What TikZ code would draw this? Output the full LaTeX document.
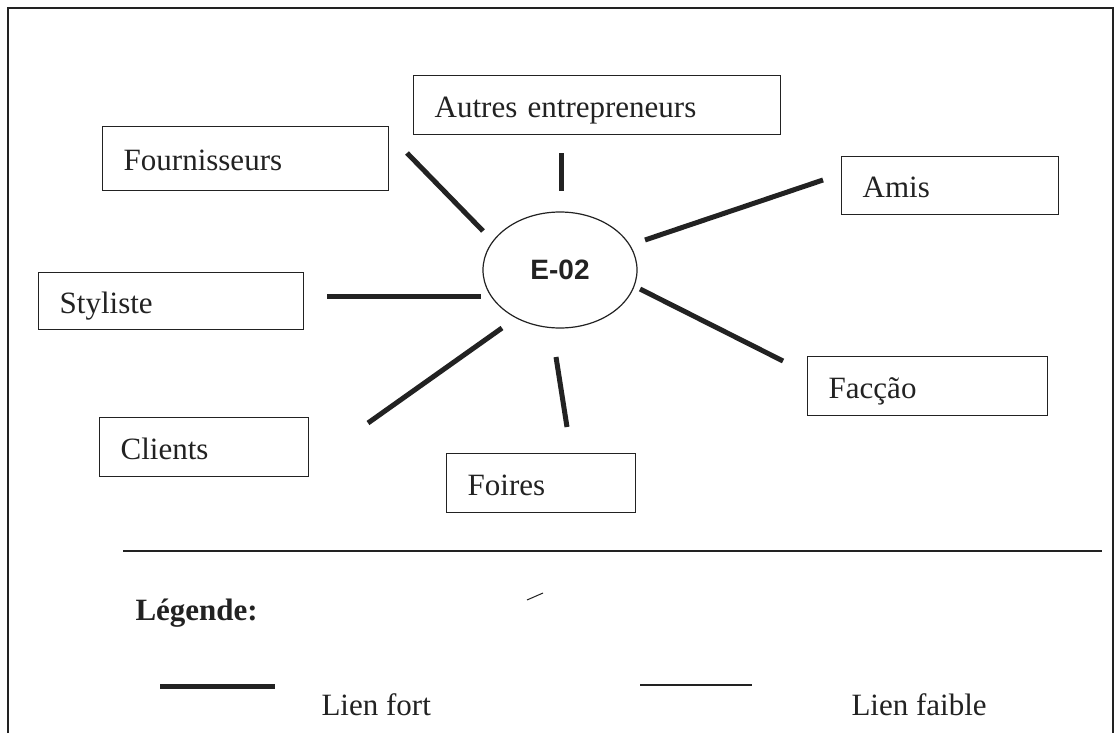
\documentclass[tikz,border=0pt]{standalone}
\usepackage{fontspec}
\setmainfont{Liberation Serif}
\newfontfamily\labelsans{Liberation Sans}
\usetikzlibrary{shapes.geometric}
\definecolor{ink}{RGB}{34,34,34}
\begin{document}
\begin{tikzpicture}[x=1pt,y=-1pt,
  every node/.style={font=\fontsize{31}{36}\selectfont, text=ink},
  actor/.style={draw=ink, line width=1.4pt, rectangle, anchor=north west,
    inner xsep=21pt, inner ysep=0pt, align=left,
    text height=24pt, text depth=0pt},
  hub/.style={draw=ink, line width=1.2pt, ellipse, inner sep=0pt,
    minimum width=154pt, minimum height=116pt,
    font=\labelsans\bfseries\fontsize{28}{32}\selectfont},
  strong/.style={draw=ink, line width=5pt},
  weak/.style={draw=ink, line width=1.4pt},
  frame/.style={draw=ink, line width=1.4pt}]

% canvas
\fill[white] (0,0) rectangle (1118,733);
\useasboundingbox (0,0) rectangle (1118,733);

% outer frame and separator above the legend
\coordinate (fTL) at (8,8);
\coordinate (fTR) at (1113,8);
\coordinate (fBL) at (8,733);
\coordinate (fBR) at (1113,733);
\draw[frame] (fBL) -- (fTL) -- (fTR) -- (fBR);
\coordinate (sepL) at (123,551);
\coordinate (sepR) at (1102,551);
\draw[frame] (sepL) -- (sepR);

% central actor
\node[hub] (e02) at (560,270) {E-02};

% surrounding actors
\node[actor, text width=244pt, minimum height=64pt] (four) at (102,126) {Fournisseurs};
\node[actor, text width=325pt, minimum height=59pt] (autres) at (413,75) {Autres entrepreneurs};
\node[actor, text width=175pt, minimum height=58pt] (amis) at (841,156) {Amis};
\node[actor, text width=223pt, minimum height=57pt] (styl) at (38,272) {Styliste};
\node[actor, text width=198pt, minimum height=59pt] (facc) at (807,356) {Facção};
\node[actor, text width=167pt, minimum height=59pt] (cli) at (99,417) {Clients};
\node[actor, text width=147pt, minimum height=59pt] (foi) at (446,453) {Foires};

% spoke end points
\coordinate (fourA) at (407,153);  \coordinate (fourB) at (483,231);
\coordinate (autA) at (561,153);   \coordinate (autB) at (561,191);
\coordinate (amiA) at (823,180);   \coordinate (amiB) at (645,240);
\coordinate (styA) at (327,296);   \coordinate (styB) at (481,296);
\coordinate (facA) at (783,361);   \coordinate (facB) at (640,289);
\coordinate (cliA) at (368,423);   \coordinate (cliB) at (502,328);
\coordinate (foiA) at (567,427);   \coordinate (foiB) at (556,357);

% strong links
\draw[strong] (fourA) -- (fourB);
\draw[strong] (autA) -- (autB);
\draw[strong] (amiA) -- (amiB);
\draw[strong] (styA) -- (styB);
\draw[strong] (facA) -- (facB);
\draw[strong] (cliA) -- (cliB);
\draw[strong] (foiA) -- (foiB);

% legend
\node[anchor=base west, font=\bfseries\fontsize{31}{36}\selectfont] (leg) at (132,620) {Légende:};
\coordinate (tickA) at (527,600);
\coordinate (tickB) at (543,593);
\draw[ink, line width=1pt] (tickA) -- (tickB);

\coordinate (strongA) at (160,686);
\coordinate (strongB) at (275,686);
\draw[strong] (strongA) -- (strongB);
\node[anchor=base west] (lfort) at (318,715) {Lien fort};

\coordinate (weakA) at (640,685);
\coordinate (weakB) at (752,685);
\draw[weak] (weakA) -- (weakB);
\node[anchor=base west] (lfaible) at (848,715) {Lien faible};
\end{tikzpicture}
\end{document}
